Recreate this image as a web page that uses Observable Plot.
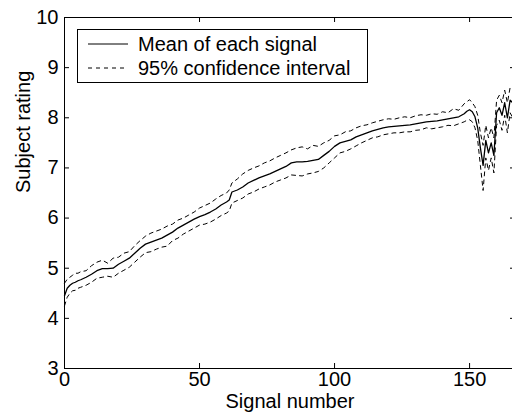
<!DOCTYPE html>
<html>
<head>
<meta charset="utf-8">
<script src="https://cdn.jsdelivr.net/npm/d3@7"></script>
<script src="https://cdn.jsdelivr.net/npm/@observablehq/plot@0.6"></script>
<style>
  html, body { margin: 0; padding: 0; background: white; }
  #wrap { position: relative; width: 512px; height: 416px; overflow: hidden; }
  #legend {
    position: absolute; left: 77px; top: 29px; width: 289px; height: 52px;
    border: 1px solid black; background: white;
    font-family: "Liberation Sans", Arial, sans-serif; font-size: 20px; color: black;
  }
  .row { position: absolute; left: 0; height: 24px; display: flex; align-items: center; }
  .row svg { margin-left: 10px; margin-right: 10px; }
</style>
</head>
<body>
<div id="wrap"></div>
<script>
const signal = [0,1,2,3,4,5,6,8,10,12,14,16,18,20,22,24,26,28,30,32,34,36,38,40,42,44,46,48,50,52,54,56,58,60,61,62,64,66,68,70,72,74,76,78,80,82,84,86,88,90,92,94,96,98,100,102,104,106,108,110,112,114,116,118,120,122,124,126,128,130,132,134,136,138,140,142,144,146,148,149,150,151,152,153,154,155,156,157,158,159,160,161,162,163,164,165,166,167];
// Mean rating of each signal
const meanRating = [4.45,4.6,4.66,4.7,4.72,4.75,4.77,4.82,4.88,4.95,4.99,4.99,5.0,5.08,5.14,5.2,5.3,5.4,5.48,5.52,5.56,5.6,5.66,5.72,5.8,5.86,5.92,5.98,6.03,6.07,6.12,6.18,6.26,6.32,6.36,6.52,6.56,6.62,6.7,6.75,6.8,6.84,6.88,6.93,6.98,7.03,7.1,7.12,7.12,7.13,7.15,7.17,7.25,7.33,7.43,7.5,7.53,7.56,7.62,7.66,7.7,7.74,7.77,7.8,7.82,7.83,7.84,7.85,7.86,7.88,7.9,7.92,7.93,7.94,7.96,7.98,8.0,8.02,8.08,8.13,8.16,8.12,8.02,7.8,7.4,7.05,7.55,7.3,7.5,7.25,8.1,8.2,8.05,8.3,8.0,8.35,8.3,8.45];
// Upper bound of the 95% confidence interval
const upperCI = [4.7,4.78,4.82,4.86,4.9,4.9,4.93,4.95,5.05,5.12,5.16,5.1,5.2,5.22,5.3,5.33,5.45,5.55,5.64,5.7,5.74,5.78,5.84,5.88,5.96,6.0,6.06,6.12,6.2,6.25,6.3,6.38,6.45,6.5,6.56,6.7,6.78,6.88,6.95,7.0,7.04,7.1,7.14,7.2,7.25,7.3,7.36,7.4,7.42,7.38,7.45,7.43,7.5,7.55,7.64,7.66,7.72,7.74,7.8,7.84,7.86,7.9,7.93,7.96,7.98,7.97,8.0,8.02,8.0,8.04,8.06,8.05,8.08,8.07,8.12,8.1,8.18,8.15,8.28,8.32,8.36,8.3,8.22,8.05,7.7,7.45,7.85,7.6,7.8,7.6,8.35,8.45,8.3,8.55,8.3,8.6,8.55,8.65];
// Lower bound of the 95% confidence interval
const lowerCI = [4.25,4.42,4.5,4.55,4.56,4.6,4.62,4.66,4.72,4.8,4.82,4.84,4.82,4.9,4.96,5.02,5.12,5.22,5.31,5.33,5.38,5.42,5.44,5.55,5.6,5.68,5.74,5.8,5.86,5.88,5.92,5.98,6.05,6.1,6.14,6.3,6.35,6.4,6.48,6.52,6.58,6.62,6.66,6.72,6.76,6.8,6.86,6.85,6.84,6.88,6.9,6.93,7.0,7.1,7.2,7.3,7.33,7.38,7.44,7.5,7.55,7.6,7.62,7.66,7.68,7.7,7.7,7.72,7.72,7.75,7.76,7.8,7.78,7.8,7.82,7.85,7.84,7.88,7.92,7.95,7.96,7.92,7.8,7.55,7.05,6.55,7.2,6.95,7.2,6.9,7.85,7.95,7.75,8.05,7.7,8.1,8.0,8.2];

const xTicks = [0, 50, 100, 150];
const yTicks = [3, 4, 5, 6, 7, 8, 9, 10];
const xDomain = [0, 167];
const yDomain = [3, 10];
const xLabel = "Signal number";
const yLabel = "Subject rating";
const legendLabels = ["Mean of each signal", "95% confidence interval"];

const rows = signal.map((s, i) => ({s, mean: meanRating[i], lo: lowerCI[i], hi: upperCI[i]}));

const W = 512, H = 416, mL = 64, mR = -3, mT = 17, mB = 48;
const tickPx = 5;
const xUnit = (xDomain[1] - xDomain[0]) / (W - mL - mR);
const yUnit = (yDomain[1] - yDomain[0]) / (H - mT - mB);

const chart = Plot.plot({
  width: W, height: H,
  marginLeft: mL, marginRight: mR, marginTop: mT, marginBottom: mB,
  style: {fontFamily: "'Liberation Sans', Arial, sans-serif", fontSize: "20px", color: "black", background: "white", overflow: "visible"},
  x: {domain: xDomain},
  y: {domain: yDomain},
  marks: [
    Plot.frame({stroke: "black", strokeWidth: 1}),
    Plot.axisX(xTicks, {anchor: "bottom", tickSize: 0, tickPadding: 3, tickFormat: d => String(d), label: null}),
    Plot.axisY(yTicks, {anchor: "left", tickSize: 0, tickPadding: 6, tickFormat: d => String(d), label: null}),
    Plot.text([xLabel], {text: d => d, frameAnchor: "bottom", dy: 39, fontSize: 20, fill: "black"}),
    Plot.text([yLabel], {text: d => d, frameAnchor: "left", rotate: -90, dx: -41, fontSize: 20, fill: "black"}),
    // inward tick marks on all four sides
    Plot.ruleX(xTicks, {x: d => d, y1: yDomain[0], y2: yDomain[0] + tickPx * yUnit, stroke: "black"}),
    Plot.ruleX(xTicks, {x: d => d, y1: yDomain[1], y2: yDomain[1] - tickPx * yUnit, stroke: "black"}),
    Plot.ruleY(yTicks, {y: d => d, x1: xDomain[0], x2: xDomain[0] + tickPx * xUnit, stroke: "black"}),
    Plot.ruleY(yTicks, {y: d => d, x1: xDomain[1], x2: xDomain[1] - tickPx * xUnit, stroke: "black"}),
    Plot.line(rows, {x: "s", y: "hi", stroke: "black", strokeWidth: 1, strokeDasharray: "4,4"}),
    Plot.line(rows, {x: "s", y: "lo", stroke: "black", strokeWidth: 1, strokeDasharray: "4,4"}),
    Plot.line(rows, {x: "s", y: "mean", stroke: "black", strokeWidth: 1.3})
  ]
});

const wrap = document.getElementById("wrap");
wrap.appendChild(chart);

// Legend (inside the plot area, upper left)
const legend = document.createElement("div");
legend.id = "legend";
const dashes = ["none", "4,4"];
legendLabels.forEach((lab, i) => {
  const row = document.createElement("div");
  row.className = "row";
  row.style.top = (2 + i * 24) + "px";
  row.innerHTML = `<svg width="40" height="4"><line x1="0" x2="40" y1="2" y2="2" stroke="black" stroke-width="1" stroke-dasharray="${dashes[i]}"></line></svg><span>${lab}</span>`;
  legend.appendChild(row);
});
wrap.appendChild(legend);
</script>
</body>
</html>
